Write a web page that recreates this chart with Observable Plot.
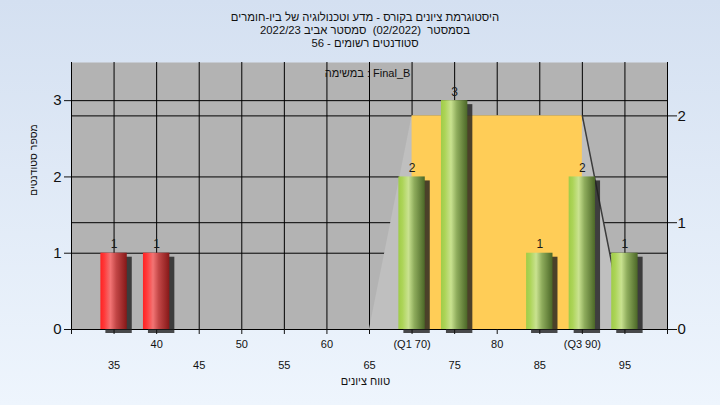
<!DOCTYPE html>
<html><head><meta charset="utf-8">
<script src="https://cdn.jsdelivr.net/npm/d3@7"></script>
<script src="https://cdn.jsdelivr.net/npm/@observablehq/plot@0.6"></script>
<style>
html,body{margin:0;padding:0;}
body{width:720px;height:405px;overflow:hidden;background:linear-gradient(#d4e0f1,#eef5fd);font-family:"Liberation Sans",Arial,sans-serif;}
#title{height:55px;box-sizing:border-box;padding-top:11px;padding-left:10px;text-align:center;direction:rtl;font-size:11.3px;line-height:13px;color:#111;}
#chart svg{display:block;}
[aria-label="bar-shadow"]{filter:blur(1.6px);}
</style></head>
<body>
<svg width="0" height="0" style="position:absolute">
  <defs>
    <linearGradient id="gGreen" x1="0" x2="1" y1="0" y2="0">
      <stop offset="0" stop-color="#9fcc48"/>
      <stop offset="0.15" stop-color="#acd457"/>
      <stop offset="0.38" stop-color="#c9e290"/>
      <stop offset="0.6" stop-color="#8eac5c"/>
      <stop offset="1" stop-color="#4b6727"/>
    </linearGradient>
    <linearGradient id="gRed" x1="0" x2="1" y1="0" y2="0">
      <stop offset="0" stop-color="#ff2222"/>
      <stop offset="0.15" stop-color="#ff3a3a"/>
      <stop offset="0.38" stop-color="#f27474"/>
      <stop offset="0.6" stop-color="#c24646"/>
      <stop offset="1" stop-color="#861818"/>
    </linearGradient>
  </defs>
</svg>
<div id="title">
  <div>היסטוגרמת ציונים בקורס - מדע וטכנולוגיה של ביו-חומרים</div>
  <div>בסמסטר &nbsp;(02/2022) &nbsp;סמסטר אביב 2022/23</div>
  <div>סטודנטים רשומים - 56</div>
</div>
<div id="chart"></div>
<script>
// ---- data ----
const grades = [35, 40, 70, 75, 85, 90, 95];
const counts = [1, 1, 2, 3, 1, 2, 1];
const passGrade = 55;
const xTickValues = [35, 40, 45, 50, 55, 60, 65, 70, 75, 80, 85, 90, 95];
const xTickLabels = ["35", "40", "45", "50", "55", "60", "65", "(Q1 70)", "75", "80", "85", "(Q3 90)", "95"];
const leftTicks = [0, 1, 2, 3];
const rightTicks = [0, 1, 2];
const yMax = 3.5;
const rightMax = 2.5;
const boxX = [65, 70, 90, 95];      // whisker low, Q1, Q3, whisker high
const boxH = [0, 2, 2, 0];          // in right-axis units
const taskLabel = "במשימה : Final_B";
const yLabel = "מספר סטודנטים";
const xLabel = "טווח ציונים";

// ---- build ----
const ratio = yMax / rightMax;
const bars = grades.map((g, i) => ({grade: g, count: counts[i]}));
const redBars = bars.filter(d => d.grade < passGrade);
const greenBars = bars.filter(d => d.grade >= passGrade);
const box = boxX.map((x, i) => ({x, y: boxH[i] * ratio}));
const labelFor = d => xTickLabels[xTickValues.indexOf(d)];
const row1 = xTickValues.filter((d, i) => i % 2 === 1);
const row2 = xTickValues.filter((d, i) => i % 2 === 0);
const axisTicks = [30, ...xTickValues, 100];
const halfW = 1.55;

const chart = Plot.plot({
  width: 720, height: 350,
  marginTop: 7, marginBottom: 76, marginLeft: 71, marginRight: 53,
  x: {domain: [30, 100]},
  y: {domain: [0, yMax]},
  style: {background: "transparent", fontFamily: "'Liberation Sans', Arial, sans-serif", fontSize: "11px", color: "#111"},
  marks: [
    Plot.frame({fill: "#b3b3b3", stroke: null}),
    Plot.ruleX(xTickValues, {stroke: "#000", strokeOpacity: 1}),
    Plot.ruleY(leftTicks.filter(d => d > 0), {stroke: "#000"}),
    Plot.ruleY(rightTicks.filter(d => d > 0).map(d => d * ratio), {stroke: "#000"}),
    Plot.areaY(box, {x: "x", y: "y", fill: "#bfbfbf"}),
    Plot.rect([0], {x1: boxX[1], x2: boxX[2], y1: 0, y2: boxH[1] * ratio, fill: "#ffcd57"}),
    Plot.line(box.slice(2), {x: "x", y: "y", stroke: "#3c3c3c", strokeWidth: 1.5}),
    Plot.ruleX([30, 100], {stroke: "#000", y1: 0, y2: yMax}),
    Plot.ruleY([0], {stroke: "#000"}),
    Plot.rectY(bars, {x1: d => d.grade - halfW, x2: d => d.grade + halfW, y: "count", fill: "#1e1e1e", fillOpacity: 0.8, dx: 5, dy: 4, ariaLabel: "bar-shadow"}),
    Plot.rectY(redBars, {x1: d => d.grade - halfW, x2: d => d.grade + halfW, y: "count", fill: "url(#gRed)"}),
    Plot.rectY(greenBars, {x1: d => d.grade - halfW, x2: d => d.grade + halfW, y: "count", fill: "url(#gGreen)"}),
    Plot.text(bars, {x: "grade", y: "count", text: d => String(d.count), dy: -5, lineAnchor: "bottom", fontSize: 12, fill: "#1a1a1a"}),
    Plot.axisY({ticks: leftTicks, tickSize: 7, tickPadding: 3, fontSize: 15, label: null, tickFormat: d => String(d)}),
    Plot.axisY({anchor: "right", ticks: rightTicks.map(d => d * ratio), tickFormat: d => String(Math.round(d / ratio)), tickSize: 9, tickPadding: 1, fontSize: 15, label: null}),
    Plot.axisX({ticks: axisTicks, tickSize: 5, tickFormat: () => "", label: null}),
    Plot.axisX({ticks: row1, tickSize: 0, tickPadding: 11, tickFormat: labelFor, fontSize: 11, label: null}),
    Plot.axisX({ticks: row2, tickSize: 0, tickPadding: 32, tickFormat: labelFor, fontSize: 11, label: null}),
    Plot.text([taskLabel], {text: d => d, frameAnchor: "top", lineAnchor: "top", dx: -2, dy: 7, fontSize: 11, fill: "#111"}),
    Plot.text([yLabel], {text: d => d, frameAnchor: "left", lineAnchor: "middle", dx: -38, rotate: -90, fontSize: 10.5, fill: "#111"}),
    Plot.text([xLabel], {text: d => d, frameAnchor: "bottom", lineAnchor: "middle", dx: -4, dy: 52, fontSize: 11, fill: "#111"})
  ]
});
document.getElementById("chart").appendChild(chart);
</script>
</body></html>
